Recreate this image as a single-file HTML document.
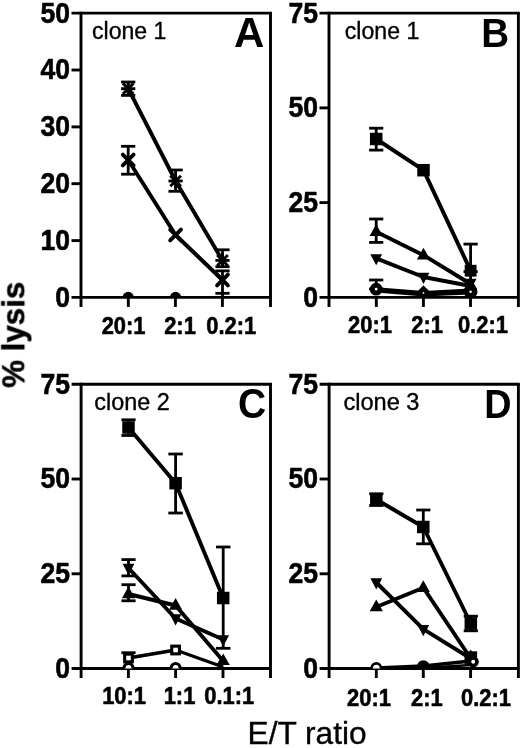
<!DOCTYPE html>
<html><head><meta charset="utf-8"><title>figure</title>
<style>
html,body{margin:0;padding:0;background:#fff}
svg{display:block;font-family:"Liberation Sans",Arial,Helvetica,sans-serif;fill:#000}
</style></head><body>
<svg width="520" height="748" viewBox="0 0 520 748">
<rect x="0" y="0" width="520" height="748" fill="#fff"/>
<defs><filter id="soft" x="0" y="0" width="520" height="748" filterUnits="userSpaceOnUse"><feGaussianBlur stdDeviation="0.4"/></filter></defs>
<g filter="url(#soft)">
<clipPath id="cA"><rect x="0" y="0" width="520" height="297.4"/></clipPath>
<clipPath id="cC"><rect x="0" y="0" width="520" height="668.5"/></clipPath>
<line x1="81.00" y1="11.65" x2="81.00" y2="306.90" stroke="#000" stroke-width="2.9" stroke-linecap="butt"/>
<line x1="71.50" y1="13.10" x2="271.95" y2="13.10" stroke="#000" stroke-width="2.9" stroke-linecap="butt"/>
<line x1="270.50" y1="13.10" x2="270.50" y2="306.90" stroke="#000" stroke-width="2.9" stroke-linecap="butt"/>
<line x1="71.50" y1="297.40" x2="270.50" y2="297.40" stroke="#000" stroke-width="2.9" stroke-linecap="butt"/>
<line x1="71.50" y1="70.00" x2="81.00" y2="70.00" stroke="#000" stroke-width="2.9" stroke-linecap="butt"/>
<line x1="71.50" y1="126.90" x2="81.00" y2="126.90" stroke="#000" stroke-width="2.9" stroke-linecap="butt"/>
<line x1="71.50" y1="183.70" x2="81.00" y2="183.70" stroke="#000" stroke-width="2.9" stroke-linecap="butt"/>
<line x1="71.50" y1="240.60" x2="81.00" y2="240.60" stroke="#000" stroke-width="2.9" stroke-linecap="butt"/>
<line x1="128.30" y1="297.40" x2="128.30" y2="306.90" stroke="#000" stroke-width="2.9" stroke-linecap="butt"/>
<line x1="175.40" y1="297.40" x2="175.40" y2="306.90" stroke="#000" stroke-width="2.9" stroke-linecap="butt"/>
<line x1="222.40" y1="297.40" x2="222.40" y2="306.90" stroke="#000" stroke-width="2.9" stroke-linecap="butt"/>
<text transform="translate(70.0,22.5) scale(0.916,1)" font-size="29.0" font-weight="bold" text-anchor="end" stroke="#000" stroke-width="0.6" stroke-linejoin="round">50</text>
<text transform="translate(70.0,79.4) scale(0.916,1)" font-size="29.0" font-weight="bold" text-anchor="end" stroke="#000" stroke-width="0.6" stroke-linejoin="round">40</text>
<text transform="translate(70.0,136.3) scale(0.916,1)" font-size="29.0" font-weight="bold" text-anchor="end" stroke="#000" stroke-width="0.6" stroke-linejoin="round">30</text>
<text transform="translate(70.0,193.1) scale(0.916,1)" font-size="29.0" font-weight="bold" text-anchor="end" stroke="#000" stroke-width="0.6" stroke-linejoin="round">20</text>
<text transform="translate(70.0,250.0) scale(0.916,1)" font-size="29.0" font-weight="bold" text-anchor="end" stroke="#000" stroke-width="0.6" stroke-linejoin="round">10</text>
<text transform="translate(70.0,306.79999999999995) scale(0.916,1)" font-size="29.0" font-weight="bold" text-anchor="end" stroke="#000" stroke-width="0.6" stroke-linejoin="round">0</text>
<text transform="translate(123.6,334.0) scale(0.895,1)" font-size="24.5" font-weight="bold" text-anchor="middle" stroke="#000" stroke-width="0.6" stroke-linejoin="round">20:1</text>
<text transform="translate(180,334.0) scale(0.895,1)" font-size="24.5" font-weight="bold" text-anchor="middle" stroke="#000" stroke-width="0.6" stroke-linejoin="round">2:1</text>
<text transform="translate(231.25,334.0) scale(0.895,1)" font-size="24.5" font-weight="bold" text-anchor="middle" stroke="#000" stroke-width="0.6" stroke-linejoin="round">0.2:1</text>
<text x="92.0" y="38.6" font-size="23.1" text-anchor="start" stroke="#000" stroke-width="0.35">clone 1</text>
<text x="234.1" y="47" font-size="42" font-weight="bold" text-anchor="start">A</text>
<circle cx="128.20" cy="297.40" r="5.6" fill="#000" clip-path="url(#cA)"/>
<circle cx="175.60" cy="297.40" r="5.6" fill="#000" clip-path="url(#cA)"/>
<polyline points="128.20,160.00 175.60,235.00 222.50,280.00" fill="none" stroke="#000" stroke-width="3.9" stroke-linejoin="round"/>
<polyline points="128.20,88.70 175.60,181.00 222.50,260.40" fill="none" stroke="#000" stroke-width="3.9" stroke-linejoin="round"/>
<line x1="128.20" y1="146.30" x2="128.20" y2="174.20" stroke="#000" stroke-width="2.8" stroke-linecap="butt"/>
<line x1="121.10" y1="146.30" x2="135.30" y2="146.30" stroke="#000" stroke-width="2.8" stroke-linecap="butt"/>
<line x1="121.10" y1="174.20" x2="135.30" y2="174.20" stroke="#000" stroke-width="2.8" stroke-linecap="butt"/>
<line x1="222.50" y1="270.90" x2="222.50" y2="293.30" stroke="#000" stroke-width="2.8" stroke-linecap="butt"/>
<line x1="215.40" y1="270.90" x2="229.60" y2="270.90" stroke="#000" stroke-width="2.8" stroke-linecap="butt"/>
<line x1="215.40" y1="293.30" x2="229.60" y2="293.30" stroke="#000" stroke-width="2.8" stroke-linecap="butt"/>
<line x1="222.50" y1="293.30" x2="222.50" y2="297.00" stroke="#000" stroke-width="2.8" stroke-linecap="butt"/>
<line x1="128.20" y1="82.00" x2="128.20" y2="95.40" stroke="#000" stroke-width="2.8" stroke-linecap="butt"/>
<line x1="121.10" y1="82.00" x2="135.30" y2="82.00" stroke="#000" stroke-width="2.8" stroke-linecap="butt"/>
<line x1="121.10" y1="95.40" x2="135.30" y2="95.40" stroke="#000" stroke-width="2.8" stroke-linecap="butt"/>
<line x1="175.60" y1="170.00" x2="175.60" y2="191.30" stroke="#000" stroke-width="2.8" stroke-linecap="butt"/>
<line x1="168.50" y1="170.00" x2="182.70" y2="170.00" stroke="#000" stroke-width="2.8" stroke-linecap="butt"/>
<line x1="168.50" y1="191.30" x2="182.70" y2="191.30" stroke="#000" stroke-width="2.8" stroke-linecap="butt"/>
<line x1="222.50" y1="249.80" x2="222.50" y2="266.70" stroke="#000" stroke-width="2.8" stroke-linecap="butt"/>
<line x1="215.40" y1="249.80" x2="229.60" y2="249.80" stroke="#000" stroke-width="2.8" stroke-linecap="butt"/>
<line x1="215.40" y1="266.70" x2="229.60" y2="266.70" stroke="#000" stroke-width="2.8" stroke-linecap="butt"/>
<line x1="122.80" y1="154.60" x2="133.60" y2="165.40" stroke="#000" stroke-width="3.9" stroke-linecap="round"/>
<line x1="122.80" y1="165.40" x2="133.60" y2="154.60" stroke="#000" stroke-width="3.9" stroke-linecap="round"/>
<line x1="170.20" y1="229.60" x2="181.00" y2="240.40" stroke="#000" stroke-width="3.9" stroke-linecap="round"/>
<line x1="170.20" y1="240.40" x2="181.00" y2="229.60" stroke="#000" stroke-width="3.9" stroke-linecap="round"/>
<line x1="217.10" y1="274.60" x2="227.90" y2="285.40" stroke="#000" stroke-width="3.9" stroke-linecap="round"/>
<line x1="217.10" y1="285.40" x2="227.90" y2="274.60" stroke="#000" stroke-width="3.9" stroke-linecap="round"/>
<line x1="122.87" y1="83.38" x2="133.52" y2="94.03" stroke="#000" stroke-width="2.9" stroke-linecap="butt"/>
<line x1="122.87" y1="94.03" x2="133.52" y2="83.38" stroke="#000" stroke-width="2.9" stroke-linecap="butt"/>
<line x1="121.10" y1="88.70" x2="135.30" y2="88.70" stroke="#000" stroke-width="2.9" stroke-linecap="butt"/>
<line x1="128.20" y1="81.60" x2="128.20" y2="95.80" stroke="#000" stroke-width="2.9" stroke-linecap="butt"/>
<line x1="170.28" y1="175.68" x2="180.92" y2="186.32" stroke="#000" stroke-width="2.9" stroke-linecap="butt"/>
<line x1="170.28" y1="186.32" x2="180.92" y2="175.68" stroke="#000" stroke-width="2.9" stroke-linecap="butt"/>
<line x1="168.50" y1="181.00" x2="182.70" y2="181.00" stroke="#000" stroke-width="2.9" stroke-linecap="butt"/>
<line x1="175.60" y1="173.90" x2="175.60" y2="188.10" stroke="#000" stroke-width="2.9" stroke-linecap="butt"/>
<line x1="217.18" y1="255.07" x2="227.82" y2="265.72" stroke="#000" stroke-width="2.9" stroke-linecap="butt"/>
<line x1="217.18" y1="265.72" x2="227.82" y2="255.07" stroke="#000" stroke-width="2.9" stroke-linecap="butt"/>
<line x1="215.40" y1="260.40" x2="229.60" y2="260.40" stroke="#000" stroke-width="2.9" stroke-linecap="butt"/>
<line x1="222.50" y1="253.30" x2="222.50" y2="267.50" stroke="#000" stroke-width="2.9" stroke-linecap="butt"/>
<line x1="329.00" y1="11.65" x2="329.00" y2="306.90" stroke="#000" stroke-width="2.9" stroke-linecap="butt"/>
<line x1="319.50" y1="13.10" x2="519.85" y2="13.10" stroke="#000" stroke-width="2.9" stroke-linecap="butt"/>
<line x1="518.40" y1="13.10" x2="518.40" y2="306.90" stroke="#000" stroke-width="2.9" stroke-linecap="butt"/>
<line x1="319.50" y1="297.40" x2="518.40" y2="297.40" stroke="#000" stroke-width="2.9" stroke-linecap="butt"/>
<line x1="319.50" y1="107.90" x2="329.00" y2="107.90" stroke="#000" stroke-width="2.9" stroke-linecap="butt"/>
<line x1="319.50" y1="202.60" x2="329.00" y2="202.60" stroke="#000" stroke-width="2.9" stroke-linecap="butt"/>
<line x1="376.30" y1="297.40" x2="376.30" y2="306.90" stroke="#000" stroke-width="2.9" stroke-linecap="butt"/>
<line x1="423.40" y1="297.40" x2="423.40" y2="306.90" stroke="#000" stroke-width="2.9" stroke-linecap="butt"/>
<line x1="470.50" y1="297.40" x2="470.50" y2="306.90" stroke="#000" stroke-width="2.9" stroke-linecap="butt"/>
<text transform="translate(318.0,22.5) scale(0.916,1)" font-size="29.0" font-weight="bold" text-anchor="end" stroke="#000" stroke-width="0.6" stroke-linejoin="round">75</text>
<text transform="translate(318.0,117.30000000000001) scale(0.916,1)" font-size="29.0" font-weight="bold" text-anchor="end" stroke="#000" stroke-width="0.6" stroke-linejoin="round">50</text>
<text transform="translate(318.0,212.0) scale(0.916,1)" font-size="29.0" font-weight="bold" text-anchor="end" stroke="#000" stroke-width="0.6" stroke-linejoin="round">25</text>
<text transform="translate(318.0,306.79999999999995) scale(0.916,1)" font-size="29.0" font-weight="bold" text-anchor="end" stroke="#000" stroke-width="0.6" stroke-linejoin="round">0</text>
<text transform="translate(370,332.6) scale(0.895,1)" font-size="24.5" font-weight="bold" text-anchor="middle" stroke="#000" stroke-width="0.6" stroke-linejoin="round">20:1</text>
<text transform="translate(427.1,332.6) scale(0.895,1)" font-size="24.5" font-weight="bold" text-anchor="middle" stroke="#000" stroke-width="0.6" stroke-linejoin="round">2:1</text>
<text transform="translate(482.9,332.6) scale(0.895,1)" font-size="24.5" font-weight="bold" text-anchor="middle" stroke="#000" stroke-width="0.6" stroke-linejoin="round">0.2:1</text>
<text x="344.8" y="38.6" font-size="23.1" text-anchor="start" stroke="#000" stroke-width="0.35">clone 1</text>
<text x="481.2" y="46.8" font-size="41.5" font-weight="bold" text-anchor="start" textLength="27.9" lengthAdjust="spacingAndGlyphs">B</text>
<line x1="376.20" y1="128.20" x2="376.20" y2="150.10" stroke="#000" stroke-width="2.8" stroke-linecap="butt"/>
<line x1="369.10" y1="128.20" x2="383.30" y2="128.20" stroke="#000" stroke-width="2.8" stroke-linecap="butt"/>
<line x1="369.10" y1="150.10" x2="383.30" y2="150.10" stroke="#000" stroke-width="2.8" stroke-linecap="butt"/>
<line x1="470.60" y1="244.10" x2="470.60" y2="297.00" stroke="#000" stroke-width="2.8" stroke-linecap="butt"/>
<line x1="463.50" y1="244.10" x2="477.70" y2="244.10" stroke="#000" stroke-width="2.8" stroke-linecap="butt"/>
<line x1="463.50" y1="271.60" x2="477.70" y2="271.60" stroke="#000" stroke-width="2.8" stroke-linecap="butt"/>
<line x1="376.20" y1="219.00" x2="376.20" y2="242.40" stroke="#000" stroke-width="2.8" stroke-linecap="butt"/>
<line x1="369.10" y1="219.00" x2="383.30" y2="219.00" stroke="#000" stroke-width="2.8" stroke-linecap="butt"/>
<line x1="369.10" y1="242.40" x2="383.30" y2="242.40" stroke="#000" stroke-width="2.8" stroke-linecap="butt"/>
<line x1="376.20" y1="280.00" x2="376.20" y2="289.00" stroke="#000" stroke-width="2.8" stroke-linecap="butt"/>
<line x1="369.10" y1="280.00" x2="383.30" y2="280.00" stroke="#000" stroke-width="2.8" stroke-linecap="butt"/>
<line x1="369.10" y1="289.00" x2="383.30" y2="289.00" stroke="#000" stroke-width="2.8" stroke-linecap="butt"/>
<polyline points="376.20,139.00 423.50,170.20 470.60,270.70" fill="none" stroke="#000" stroke-width="3.9" stroke-linejoin="round"/>
<polyline points="376.20,231.70 423.50,255.20 470.60,284.00" fill="none" stroke="#000" stroke-width="3.9" stroke-linejoin="round"/>
<polyline points="376.20,258.40 423.50,277.00 470.60,286.00" fill="none" stroke="#000" stroke-width="3.9" stroke-linejoin="round"/>
<polyline points="376.20,289.20 423.50,293.00 470.60,290.50" fill="none" stroke="#000" stroke-width="3.9" stroke-linejoin="round"/>
<polyline points="376.20,290.50 423.50,294.50 470.60,292.50" fill="none" stroke="#000" stroke-width="3.9" stroke-linejoin="round"/>
<rect x="369.95" y="132.75" width="12.5" height="12.5" fill="#000"/>
<rect x="417.25" y="163.95" width="12.5" height="12.5" fill="#000"/>
<rect x="464.70" y="264.80" width="11.8" height="11.8" fill="#000"/>
<polygon points="376.20,224.32 369.60,235.92 382.80,235.92" fill="#000"/>
<polygon points="423.50,247.82 416.90,259.42 430.10,259.42" fill="#000"/>
<polygon points="470.60,277.62 464.00,289.22 477.20,289.22" fill="#000"/>
<polygon points="376.20,265.36 370.30,254.16 382.10,254.16" fill="#000"/>
<polygon points="423.50,283.96 417.60,272.76 429.40,272.76" fill="#000"/>
<polygon points="470.60,289.96 464.70,278.76 476.50,278.76" fill="#000"/>
<circle cx="376.20" cy="289.20" r="3.9" fill="#fff" stroke="#000" stroke-width="5.0"/>
<polygon points="423.5,288.6 427.9,293 423.5,297.4 419.1,293" fill="#fff" stroke="#000" stroke-width="4.6" stroke-linejoin="miter" clip-path="url(#cA)"/>
<circle cx="470.60" cy="291.80" r="4.1" fill="#fff" stroke="#000" stroke-width="5.6" clip-path="url(#cA)"/>
<line x1="81.10" y1="382.85" x2="81.10" y2="678.00" stroke="#000" stroke-width="2.9" stroke-linecap="butt"/>
<line x1="71.60" y1="384.30" x2="271.95" y2="384.30" stroke="#000" stroke-width="2.9" stroke-linecap="butt"/>
<line x1="270.50" y1="384.30" x2="270.50" y2="678.00" stroke="#000" stroke-width="2.9" stroke-linecap="butt"/>
<line x1="71.60" y1="668.50" x2="270.50" y2="668.50" stroke="#000" stroke-width="2.9" stroke-linecap="butt"/>
<line x1="71.60" y1="479.00" x2="81.10" y2="479.00" stroke="#000" stroke-width="2.9" stroke-linecap="butt"/>
<line x1="71.60" y1="573.80" x2="81.10" y2="573.80" stroke="#000" stroke-width="2.9" stroke-linecap="butt"/>
<line x1="128.40" y1="668.50" x2="128.40" y2="678.00" stroke="#000" stroke-width="2.9" stroke-linecap="butt"/>
<line x1="175.60" y1="668.50" x2="175.60" y2="678.00" stroke="#000" stroke-width="2.9" stroke-linecap="butt"/>
<line x1="223.00" y1="668.50" x2="223.00" y2="678.00" stroke="#000" stroke-width="2.9" stroke-linecap="butt"/>
<text transform="translate(70.0,393.7) scale(0.916,1)" font-size="29.0" font-weight="bold" text-anchor="end" stroke="#000" stroke-width="0.6" stroke-linejoin="round">75</text>
<text transform="translate(70.0,488.4) scale(0.916,1)" font-size="29.0" font-weight="bold" text-anchor="end" stroke="#000" stroke-width="0.6" stroke-linejoin="round">50</text>
<text transform="translate(70.0,583.1999999999999) scale(0.916,1)" font-size="29.0" font-weight="bold" text-anchor="end" stroke="#000" stroke-width="0.6" stroke-linejoin="round">25</text>
<text transform="translate(70.0,678.1999999999999) scale(0.916,1)" font-size="29.0" font-weight="bold" text-anchor="end" stroke="#000" stroke-width="0.6" stroke-linejoin="round">0</text>
<text transform="translate(124.1,703.6) scale(0.895,1)" font-size="24.5" font-weight="bold" text-anchor="middle" stroke="#000" stroke-width="0.6" stroke-linejoin="round">10:1</text>
<text transform="translate(179.5,703.6) scale(0.895,1)" font-size="24.5" font-weight="bold" text-anchor="middle" stroke="#000" stroke-width="0.6" stroke-linejoin="round">1:1</text>
<text transform="translate(229.2,703.6) scale(0.895,1)" font-size="24.5" font-weight="bold" text-anchor="middle" stroke="#000" stroke-width="0.6" stroke-linejoin="round">0.1:1</text>
<text x="94.3" y="409.7" font-size="23.4" text-anchor="start" stroke="#000" stroke-width="0.35">clone 2</text>
<text x="238.1" y="418.4" font-size="42" font-weight="bold" text-anchor="start" textLength="28.2" lengthAdjust="spacingAndGlyphs">C</text>
<line x1="128.50" y1="419.80" x2="128.50" y2="435.50" stroke="#000" stroke-width="2.8" stroke-linecap="butt"/>
<line x1="121.40" y1="419.80" x2="135.60" y2="419.80" stroke="#000" stroke-width="2.8" stroke-linecap="butt"/>
<line x1="121.40" y1="435.50" x2="135.60" y2="435.50" stroke="#000" stroke-width="2.8" stroke-linecap="butt"/>
<line x1="175.60" y1="454.00" x2="175.60" y2="513.00" stroke="#000" stroke-width="2.8" stroke-linecap="butt"/>
<line x1="168.35" y1="454.00" x2="182.85" y2="454.00" stroke="#000" stroke-width="2.8" stroke-linecap="butt"/>
<line x1="168.35" y1="513.00" x2="182.85" y2="513.00" stroke="#000" stroke-width="2.8" stroke-linecap="butt"/>
<line x1="223.20" y1="547.00" x2="223.20" y2="648.30" stroke="#000" stroke-width="2.8" stroke-linecap="butt"/>
<line x1="215.95" y1="547.00" x2="230.45" y2="547.00" stroke="#000" stroke-width="2.8" stroke-linecap="butt"/>
<line x1="215.95" y1="648.30" x2="230.45" y2="648.30" stroke="#000" stroke-width="2.8" stroke-linecap="butt"/>
<line x1="128.50" y1="559.60" x2="128.50" y2="575.90" stroke="#000" stroke-width="2.8" stroke-linecap="butt"/>
<line x1="121.40" y1="559.60" x2="135.60" y2="559.60" stroke="#000" stroke-width="2.8" stroke-linecap="butt"/>
<line x1="121.40" y1="575.90" x2="135.60" y2="575.90" stroke="#000" stroke-width="2.8" stroke-linecap="butt"/>
<line x1="128.50" y1="584.70" x2="128.50" y2="600.80" stroke="#000" stroke-width="2.8" stroke-linecap="butt"/>
<line x1="121.40" y1="584.70" x2="135.60" y2="584.70" stroke="#000" stroke-width="2.8" stroke-linecap="butt"/>
<line x1="121.40" y1="600.80" x2="135.60" y2="600.80" stroke="#000" stroke-width="2.8" stroke-linecap="butt"/>
<line x1="121.40" y1="652.70" x2="135.60" y2="652.70" stroke="#000" stroke-width="2.8" stroke-linecap="butt"/>
<polyline points="128.50,427.50 175.60,483.20 223.20,598.00" fill="none" stroke="#000" stroke-width="3.9" stroke-linejoin="round"/>
<polyline points="128.50,594.00 175.60,605.50 223.20,661.00" fill="none" stroke="#000" stroke-width="3.9" stroke-linejoin="round"/>
<polyline points="128.50,568.00 175.60,618.50 223.20,639.50" fill="none" stroke="#000" stroke-width="3.9" stroke-linejoin="round"/>
<polyline points="128.50,658.00 175.60,650.00 223.20,667.00" fill="none" stroke="#000" stroke-width="3.3" stroke-linejoin="round"/>
<rect x="122.25" y="421.25" width="12.5" height="12.5" fill="#000"/>
<rect x="169.35" y="476.95" width="12.5" height="12.5" fill="#000"/>
<rect x="216.95" y="591.75" width="12.5" height="12.5" fill="#000"/>
<polygon points="128.50,586.62 121.90,598.22 135.10,598.22" fill="#000"/>
<polygon points="175.60,598.12 169.00,609.72 182.20,609.72" fill="#000"/>
<g clip-path="url(#cC)">
<polygon points="223.20,653.42 216.60,665.02 229.80,665.02" fill="#000"/>
</g>
<polygon points="128.50,574.96 122.60,563.76 134.40,563.76" fill="#000"/>
<polygon points="175.60,625.46 169.70,614.26 181.50,614.26" fill="#000"/>
<polygon points="223.20,646.46 217.30,635.26 229.10,635.26" fill="#000"/>
<rect x="124.65" y="654.15" width="7.7" height="7.7" fill="#fff" stroke="#000" stroke-width="3.1"/>
<rect x="171.75" y="646.15" width="7.7" height="7.7" fill="#fff" stroke="#000" stroke-width="3.1"/>
<circle cx="128.50" cy="668.00" r="4.5" fill="#fff" stroke="#000" stroke-width="3.2" clip-path="url(#cC)"/>
<circle cx="175.60" cy="668.00" r="4.5" fill="#fff" stroke="#000" stroke-width="3.2" clip-path="url(#cC)"/>
<line x1="329.10" y1="382.85" x2="329.10" y2="678.00" stroke="#000" stroke-width="2.9" stroke-linecap="butt"/>
<line x1="319.60" y1="384.30" x2="519.85" y2="384.30" stroke="#000" stroke-width="2.9" stroke-linecap="butt"/>
<line x1="518.40" y1="384.30" x2="518.40" y2="678.00" stroke="#000" stroke-width="2.9" stroke-linecap="butt"/>
<line x1="319.60" y1="668.50" x2="518.40" y2="668.50" stroke="#000" stroke-width="2.9" stroke-linecap="butt"/>
<line x1="319.60" y1="479.00" x2="329.10" y2="479.00" stroke="#000" stroke-width="2.9" stroke-linecap="butt"/>
<line x1="319.60" y1="573.80" x2="329.10" y2="573.80" stroke="#000" stroke-width="2.9" stroke-linecap="butt"/>
<line x1="376.30" y1="668.50" x2="376.30" y2="678.00" stroke="#000" stroke-width="2.9" stroke-linecap="butt"/>
<line x1="423.30" y1="668.50" x2="423.30" y2="678.00" stroke="#000" stroke-width="2.9" stroke-linecap="butt"/>
<line x1="470.60" y1="668.50" x2="470.60" y2="678.00" stroke="#000" stroke-width="2.9" stroke-linecap="butt"/>
<text transform="translate(318.0,393.7) scale(0.916,1)" font-size="29.0" font-weight="bold" text-anchor="end" stroke="#000" stroke-width="0.6" stroke-linejoin="round">75</text>
<text transform="translate(318.0,488.4) scale(0.916,1)" font-size="29.0" font-weight="bold" text-anchor="end" stroke="#000" stroke-width="0.6" stroke-linejoin="round">50</text>
<text transform="translate(318.0,583.1999999999999) scale(0.916,1)" font-size="29.0" font-weight="bold" text-anchor="end" stroke="#000" stroke-width="0.6" stroke-linejoin="round">25</text>
<text transform="translate(318.0,678.0) scale(0.916,1)" font-size="29.0" font-weight="bold" text-anchor="end" stroke="#000" stroke-width="0.6" stroke-linejoin="round">0</text>
<text transform="translate(369,706.3) scale(0.895,1)" font-size="24.5" font-weight="bold" text-anchor="middle" stroke="#000" stroke-width="0.6" stroke-linejoin="round">20:1</text>
<text transform="translate(426.9,706.3) scale(0.895,1)" font-size="24.5" font-weight="bold" text-anchor="middle" stroke="#000" stroke-width="0.6" stroke-linejoin="round">2:1</text>
<text transform="translate(486,706.3) scale(0.895,1)" font-size="24.5" font-weight="bold" text-anchor="middle" stroke="#000" stroke-width="0.6" stroke-linejoin="round">0.2:1</text>
<text x="343.4" y="409.7" font-size="23.6" text-anchor="start" stroke="#000" stroke-width="0.35">clone 3</text>
<text x="484.2" y="417.5" font-size="41.5" font-weight="bold" text-anchor="start" textLength="27.3" lengthAdjust="spacingAndGlyphs">D</text>
<line x1="376.30" y1="493.80" x2="376.30" y2="505.50" stroke="#000" stroke-width="2.8" stroke-linecap="butt"/>
<line x1="369.20" y1="493.80" x2="383.40" y2="493.80" stroke="#000" stroke-width="2.8" stroke-linecap="butt"/>
<line x1="369.20" y1="505.50" x2="383.40" y2="505.50" stroke="#000" stroke-width="2.8" stroke-linecap="butt"/>
<line x1="423.30" y1="510.00" x2="423.30" y2="543.80" stroke="#000" stroke-width="2.8" stroke-linecap="butt"/>
<line x1="416.20" y1="510.00" x2="430.40" y2="510.00" stroke="#000" stroke-width="2.8" stroke-linecap="butt"/>
<line x1="416.20" y1="543.80" x2="430.40" y2="543.80" stroke="#000" stroke-width="2.8" stroke-linecap="butt"/>
<line x1="470.80" y1="616.20" x2="470.80" y2="630.80" stroke="#000" stroke-width="2.8" stroke-linecap="butt"/>
<line x1="463.70" y1="616.20" x2="477.90" y2="616.20" stroke="#000" stroke-width="2.8" stroke-linecap="butt"/>
<line x1="463.70" y1="630.80" x2="477.90" y2="630.80" stroke="#000" stroke-width="2.8" stroke-linecap="butt"/>
<polyline points="376.30,499.50 423.30,527.00 470.80,623.50" fill="none" stroke="#000" stroke-width="3.9" stroke-linejoin="round"/>
<polyline points="376.30,607.00 423.30,587.70 470.80,658.50" fill="none" stroke="#000" stroke-width="3.9" stroke-linejoin="round"/>
<polyline points="376.30,582.50 423.30,629.20 470.80,658.50" fill="none" stroke="#000" stroke-width="3.9" stroke-linejoin="round"/>
<polyline points="376.30,668.00 423.30,666.00 470.80,661.00" fill="none" stroke="#000" stroke-width="3.3" stroke-linejoin="round"/>
<polyline points="376.30,668.60 423.30,668.00 470.80,665.00" fill="none" stroke="#000" stroke-width="2.6" stroke-linejoin="round"/>
<rect x="370.05" y="493.25" width="12.5" height="12.5" fill="#000"/>
<rect x="417.05" y="520.75" width="12.5" height="12.5" fill="#000"/>
<rect x="464.55" y="617.25" width="12.5" height="12.5" fill="#000"/>
<polygon points="376.30,599.62 369.70,611.22 382.90,611.22" fill="#000"/>
<polygon points="423.30,580.32 416.70,591.92 429.90,591.92" fill="#000"/>
<polygon points="470.80,649.62 464.20,661.22 477.40,661.22" fill="#000"/>
<polygon points="376.30,589.46 370.40,578.26 382.20,578.26" fill="#000"/>
<polygon points="423.30,636.16 417.40,624.96 429.20,624.96" fill="#000"/>
<circle cx="376.30" cy="668.00" r="4.6" fill="#fff" stroke="#000" stroke-width="2.6" clip-path="url(#cC)"/>
<circle cx="423.30" cy="666.50" r="6.3" fill="#000" clip-path="url(#cC)"/>
<rect x="464.50" y="651.30" width="12.6" height="12.6" fill="#000"/>
<circle cx="473.20" cy="661.80" r="3.8" fill="#fff" stroke="#000" stroke-width="3.6" clip-path="url(#cC)"/>
<text x="0" y="0" font-size="31.3" font-weight="bold" text-anchor="middle" transform="translate(24.3,334.8) rotate(-90)" stroke="#000" stroke-width="0.5">% lysis</text>
<text x="247.5" y="744.3" font-size="31.7" text-anchor="start" stroke="#000" stroke-width="0.35">E/T ratio</text>
</g>
</svg>
</body></html>
